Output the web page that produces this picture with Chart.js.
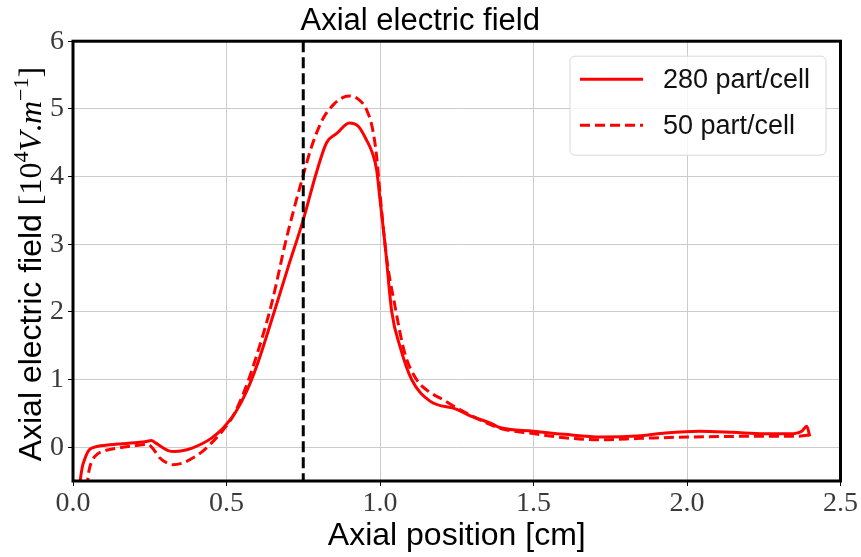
<!DOCTYPE html>
<html>
<head>
<meta charset="utf-8">
<script src="https://cdn.jsdelivr.net/npm/chart.js@4"></script>
<style>
  html, body { margin: 0; padding: 0; background: #fff; }
  canvas { display: block; }
</style>
</head>
<body>
<canvas id="fieldChart" width="861" height="557"></canvas>
<script>
// 280 part/cell run
var pos280 = [0.02, 0.03, 0.038, 0.047, 0.055, 0.07, 0.09, 0.12, 0.16, 0.2, 0.24, 0.255, 0.27, 0.29, 0.31,
  0.33, 0.36, 0.39, 0.42, 0.45, 0.48, 0.5, 0.53, 0.565, 0.6, 0.652, 0.7, 0.75, 0.793, 0.826, 0.86, 0.9,
  0.93, 0.956, 0.975, 0.989, 1.0, 1.016, 1.038, 1.065, 1.103, 1.163, 1.25, 1.3, 1.358, 1.39, 1.5, 1.6,
  1.72, 1.85, 1.93, 2.04, 2.15, 2.25, 2.347, 2.375, 2.39, 2.4];
var field280 = [-0.6, -0.3, -0.18, -0.08, -0.03, 0.0, 0.02, 0.035, 0.05, 0.065, 0.085, 0.1, 0.06, 0.0, -0.05,
  -0.065, -0.05, -0.01, 0.05, 0.13, 0.24, 0.34, 0.52, 0.82, 1.22, 1.95, 2.65, 3.36, 4.06, 4.5, 4.64, 4.79,
  4.74, 4.54, 4.35, 4.1, 3.66, 3.02, 2.01, 1.49, 1.0, 0.68, 0.56, 0.45, 0.36, 0.29, 0.236, 0.19,
  0.15, 0.17, 0.21, 0.236, 0.22, 0.2, 0.2, 0.24, 0.31, 0.16];

// 50 part/cell run
var pos50 = [0.045, 0.052, 0.065, 0.08, 0.098, 0.15, 0.2, 0.244, 0.26, 0.283, 0.305, 0.326, 0.36, 0.39,
  0.42, 0.446, 0.47, 0.49, 0.52, 0.56, 0.6, 0.647, 0.696, 0.75, 0.78, 0.815, 0.85, 0.88, 0.902, 0.93,
  0.956, 0.975, 0.989, 1.0, 1.02, 1.049, 1.08, 1.119, 1.16, 1.206, 1.25, 1.271, 1.3, 1.39, 1.5, 1.6,
  1.72, 1.85, 2.0, 2.2, 2.35, 2.4];
var field50 = [-0.6, -0.35, -0.18, -0.1, -0.06, -0.01, 0.02, 0.04, -0.02, -0.16, -0.23, -0.26, -0.23, -0.16,
  -0.07, 0.04, 0.15, 0.26, 0.45, 0.85, 1.38, 2.12, 3.1, 4.02, 4.48, 4.86, 5.07, 5.17, 5.19, 5.14,
  4.99, 4.72, 4.3, 3.75, 2.85, 2.08, 1.4, 1.0, 0.82, 0.7, 0.58, 0.53, 0.46, 0.28, 0.2, 0.14,
  0.11, 0.13, 0.15, 0.16, 0.16, 0.18];

var seriesNames = ["280 part/cell", "50 part/cell"];
var xTicks = [0, 0.5, 1, 1.5, 2, 2.5];
var yTicks = [0, 1, 2, 3, 4, 5, 6];
var markerPos = 0.75;

var sansFont = "'Liberation Sans', Arial, sans-serif";
var serifFont = "'Liberation Serif', 'Times New Roman', serif";

function toPoints(xs, ys) {
  var pts = [];
  for (var i = 0; i < xs.length; i++) {
    pts.push({ x: xs[i], y: ys[i] });
  }
  return pts;
}

var decorPlugin = {
  id: "decor",
  afterDatasetsDraw: function (chart) {
    var ctx = chart.ctx;
    var area = chart.chartArea;
    var xPix = chart.scales.x.getPixelForValue(markerPos);

    ctx.save();
    // vertical marker
    ctx.beginPath();
    ctx.setLineDash([11, 5]);
    ctx.strokeStyle = "#000";
    ctx.lineWidth = 3;
    ctx.moveTo(xPix, area.top);
    ctx.lineTo(xPix, area.bottom);
    ctx.stroke();
    ctx.setLineDash([]);

    // frame
    ctx.lineWidth = 3;
    ctx.strokeRect(area.left, area.top, area.right - area.left, area.bottom - area.top);

    // legend
    var boxW = 256, boxH = 99;
    var bx = area.right - 14.5 - boxW;
    var by = area.top + 15;
    ctx.beginPath();
    ctx.roundRect(bx, by, boxW, boxH, 5);
    ctx.fillStyle = "rgba(255,255,255,0.8)";
    ctx.fill();
    ctx.strokeStyle = "#d8d8d8";
    ctx.lineWidth = 1;
    ctx.stroke();
    chart.data.datasets.forEach(function (ds, i) {
      var rowY = by + 23 + i * 46;
      ctx.beginPath();
      ctx.setLineDash(ds.borderDash || []);
      ctx.strokeStyle = ds.borderColor;
      ctx.lineWidth = ds.borderWidth;
      ctx.moveTo(bx + 10, rowY);
      ctx.lineTo(bx + 73, rowY);
      ctx.stroke();
      ctx.setLineDash([]);
      ctx.fillStyle = "#111";
      ctx.font = "27px " + sansFont;
      ctx.textBaseline = "middle";
      ctx.textAlign = "left";
      ctx.fillText(ds.label, bx + 93, rowY + 1);
    });
    ctx.restore();
  },
  afterDraw: function (chart) {
    // y axis label with math part
    var ctx = chart.ctx;
    var area = chart.chartArea;
    var parts = [
      { t: "Axial electric field ", f: "32px " + sansFont, dy: 0 },
      { t: "[10", f: "32px " + serifFont, dy: 0 },
      { t: "4", f: "22px " + serifFont, dy: -13 },
      { t: "V", f: "italic 32px " + serifFont, dy: 0 },
      { t: ".", f: "32px " + serifFont, dy: 0 },
      { t: "m", f: "italic 32px " + serifFont, dy: 0 },
      { t: "\u22121", f: "22px " + serifFont, dy: -13 },
      { t: "]", f: "32px " + serifFont, dy: 0 }
    ];
    ctx.save();
    var total = 0;
    parts.forEach(function (p) {
      ctx.font = p.f;
      p.w = ctx.measureText(p.t).width;
      total += p.w;
    });
    var cy = (area.top + area.bottom) / 2 + 3;
    ctx.translate(41, cy);
    ctx.rotate(-Math.PI / 2);
    ctx.fillStyle = "#000";
    ctx.textBaseline = "alphabetic";
    ctx.textAlign = "left";
    var u = -total / 2;
    parts.forEach(function (p) {
      ctx.font = p.f;
      ctx.fillText(p.t, u, p.dy);
      u += p.w;
    });
    ctx.restore();
  }
};

var fieldChart = new Chart(document.getElementById("fieldChart"), {
  type: "line",
  data: {
    datasets: [
      {
        label: seriesNames[0],
        data: toPoints(pos280, field280),
        borderColor: "#ff0000",
        borderWidth: 3,
        pointRadius: 0,
        cubicInterpolationMode: "monotone",
        fill: false
      },
      {
        label: seriesNames[1],
        data: toPoints(pos50, field50),
        borderColor: "#ff0000",
        borderWidth: 3,
        borderDash: [10, 5],
        pointRadius: 0,
        cubicInterpolationMode: "monotone",
        fill: false
      }
    ]
  },
  plugins: [decorPlugin],
  options: {
    responsive: false,
    animation: false,
    events: [],
    devicePixelRatio: 1,
    layout: { padding: { left: 0, right: 20.5, top: 0, bottom: 0 } },
    plugins: {
      legend: { display: false },
      tooltip: { enabled: false },
      title: {
        display: true,
        text: "Axial electric field",
        color: "#000",
        font: { family: sansFont, size: 31, weight: "normal" },
        padding: { top: 3, bottom: 1 }
      }
    },
    scales: {
      x: {
        type: "linear",
        min: 0,
        max: 2.5,
        afterBuildTicks: function (scale) {
          scale.ticks = xTicks.map(function (v) { return { value: v }; });
        },
        afterFit: function (scale) { scale.height = 76; },
        grid: { color: "#cccccc", lineWidth: 1, tickLength: 5, tickColor: "#000" },
        border: { display: false },
        ticks: {
          color: "#3a3a3a",
          padding: 1,
          maxRotation: 0,
          autoSkip: false,
          font: { family: serifFont, size: 28 },
          callback: function (v) { return v.toFixed(1); }
        },
        title: {
          display: true,
          text: "Axial position [cm]",
          color: "#000",
          font: { family: sansFont, size: 32 },
          padding: { top: 0, bottom: 2 }
        }
      },
      y: {
        type: "linear",
        min: -0.5,
        max: 6,
        afterBuildTicks: function (scale) {
          scale.ticks = yTicks.map(function (v) { return { value: v }; });
        },
        afterFit: function (scale) { scale.width = 73; },
        grid: { color: "#cccccc", lineWidth: 1, tickLength: 5, tickColor: "#000" },
        border: { display: false },
        ticks: {
          color: "#3a3a3a",
          padding: 4,
          autoSkip: false,
          font: { family: serifFont, size: 28 },
          callback: function (v) { return String(v); }
        }
      }
    }
  }
});
</script>
</body>
</html>
